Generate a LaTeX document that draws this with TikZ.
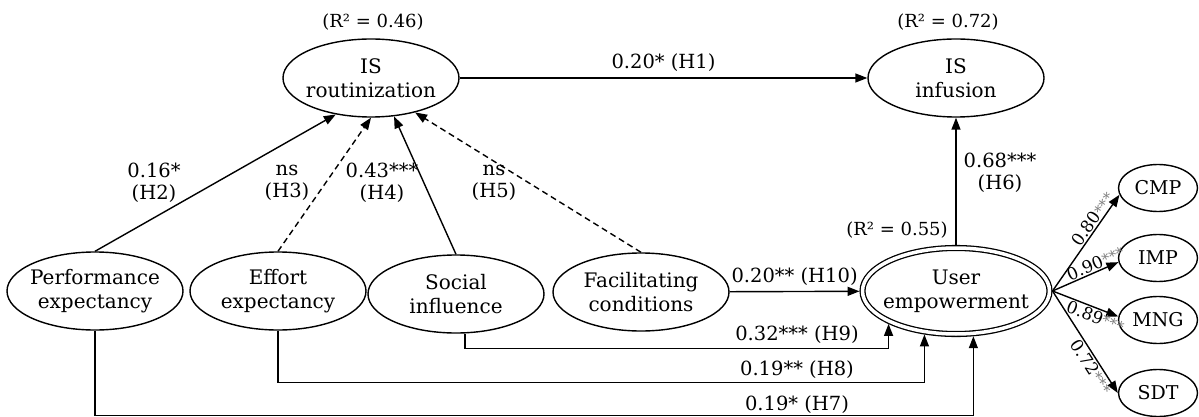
\documentclass[tikz,border=0pt]{standalone}
\usepackage{fontspec}
\setmainfont{DejaVu Serif}
\usetikzlibrary{shapes.geometric,arrows.meta}
\newcommand{\stars}[1]{\textcolor{gray}{\fontsize{15}{17}\selectfont #1}}
\begin{document}
\begin{tikzpicture}[x=1pt,y=-1pt,
  lat/.style={ellipse,draw,line width=1.4pt,minimum width=176pt,minimum height=78pt,inner xsep=-14pt,inner ysep=0pt,align=center,font=\fontsize{20}{24}\selectfont},
  ind/.style={ellipse,draw,line width=1.4pt,minimum width=79pt,minimum height=47pt,inner sep=0pt,font=\fontsize{19}{22}\selectfont},
  lbl/.style={align=center,inner sep=1pt,font=\fontsize{19.5}{22}\selectfont},
  rsq/.style={align=center,inner sep=1pt,font=\fontsize{18}{22}\selectfont},
  load/.style={font=\fontsize{17}{19}\selectfont,inner sep=1pt,sloped,pos=.7},
  arr/.style={line width=1.4pt,-{Triangle[length=12pt,width=9pt]}},
  dsh/.style={arr,dash pattern=on 6pt off 4pt}]
\useasboundingbox (0,0) rectangle (1199,417);
% latent constructs
\node[lat] (ro) at (371,78) {IS\\routinization};
\node[lat] (inf) at (956,78) {IS\\infusion};
\node[lat] (pe) at (95,291) {Performance\\expectancy};
\node[lat] (ee) at (278,291) {Effort\\expectancy};
\node[lat] (si) at (456,294) {Social\\influence};
\node[lat] (fc) at (641,292) {Facilitating\\conditions};
\node[lat,double,double distance=3.5pt,line width=1.3pt,minimum width=187pt,minimum height=86pt,outer sep=3pt] (ue) at (956,291) {User\\empowerment};
% indicators
\node[ind] (cmp) at (1158,188) {CMP};
\node[ind] (imp) at (1158,258) {IMP};
\node[ind] (mng) at (1158,320) {MNG};
\node[ind] (sdt) at (1158,393) {SDT};
% R squared
\node[rsq] (r46) at (373,22) {(R² = 0.46)};
\node[rsq] (r72) at (948,22) {(R² = 0.72)};
\node[rsq] (r55) at (897,230) {(R² = 0.55)};
% H1
\draw[arr] (ro) -- (inf) node[lbl,midway,above=5pt] {0.20* (H1)};
% H2-H5
\draw[arr] (pe.north) -- (ro.226.6);
\draw[dsh] (ee.north) -- (ro.270);
\draw[arr] (si.north) -- (ro.301);
\draw[dsh] (fc.north) -- (ro.322);
\node[lbl] (l2) at (154,183) {0.16*\\(H2)};
\node[lbl] (l3) at (287,183) {ns\\(H3)};
\node[lbl] (l4) at (382,183) {0.43***\\(H4)};
\node[lbl] (l5) at (494,183) {ns\\(H5)};
% H6
\draw[arr] (ue) -- (inf);
\node[lbl] (l6) at (1000,173) {0.68***\\(H6)};
% H10
\draw[arr] (fc) -- (ue) node[lbl,midway,above=4pt] {0.20** (H10)};
% H9, H8, H7
\draw[arr] ([xshift=9pt]si.south) -- ++(0,15) -| (ue.206.6);
\draw[arr] (ee.south) -- ++(0,52) -| (ue.234.7);
\draw[arr] (pe.south) -- ++(0,85) -| (ue.291.9);
\node[lbl] (l9) at (797,335) {0.32*** (H9)};
\node[lbl] (l8) at (797,370) {0.19** (H8)};
\node[lbl] (l7) at (797,405) {0.19* (H7)};
% loadings
\draw[arr] (ue.east) -- (cmp.190) node[load,above] {0.80\stars{***}};
\draw[arr] (ue.east) -- (imp.186) node[load,above] {0.90\stars{***}};
\draw[arr] (ue.east) -- (mng.175) node[load,below] {0.89\stars{***}};
\draw[arr] (ue.east) -- (sdt.west) node[load,below] {0.72\stars{***}};
\end{tikzpicture}
\end{document}
